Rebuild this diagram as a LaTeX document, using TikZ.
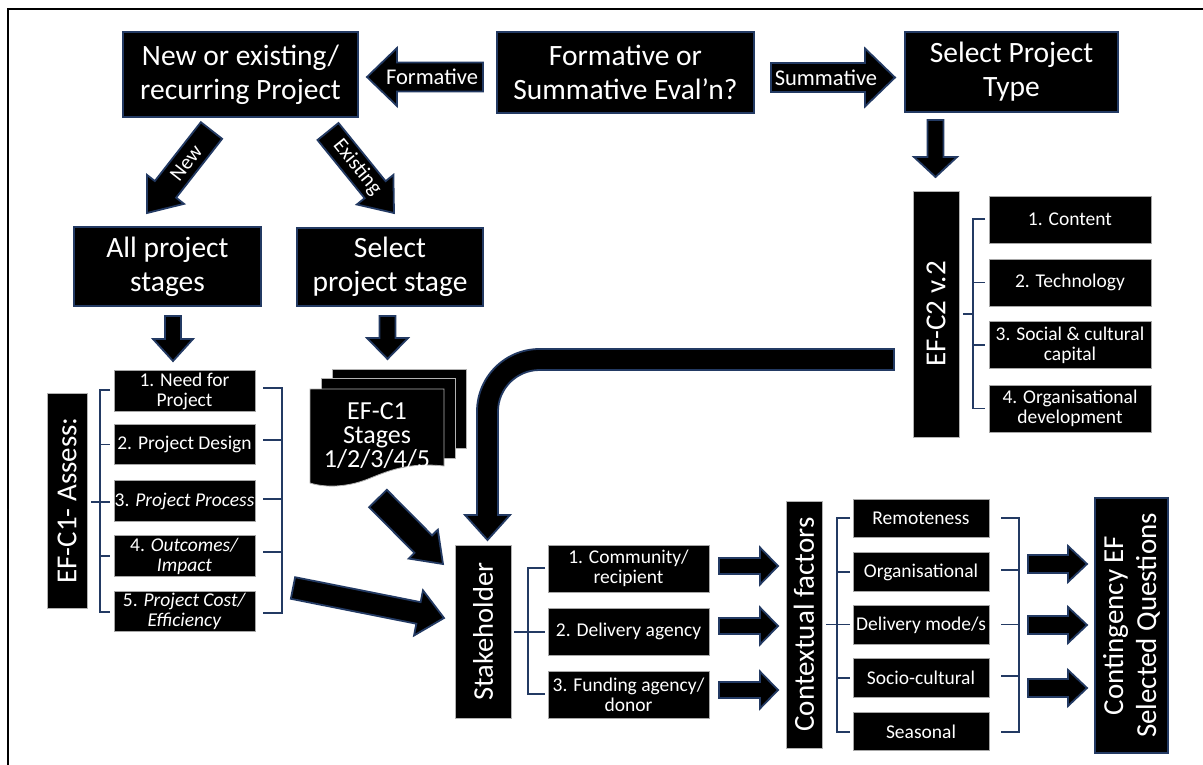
\documentclass[tikz,border=0pt]{standalone}
\usepackage{fontspec}
\setmainfont{Carlito}
\usetikzlibrary{calc}
\definecolor{navy}{RGB}{35,58,99}
\tikzset{
  bigbox/.style={fill=black, draw=navy, line width=1.5pt, text=white, align=center,
    font=\fontsize{29.5}{34}\selectfont, inner sep=0pt},
  itembox/.style={fill=black, draw=gray!70, line width=0.6pt, text=white, align=center,
    font=\fontsize{19.5}{20}\selectfont, inner sep=0pt},
  vbox/.style={fill=black, draw=gray!60, line width=0.6pt, text=white, align=center,
    font=\fontsize{29}{33}\selectfont, inner sep=0pt, rotate=90},
  brk/.style={draw=navy, line width=1.6pt},
  barr/.style={fill=black, draw=navy, line width=1.8pt, line join=miter},
  alabel/.style={text=white, font=\fontsize{22.5}{23}\selectfont, inner sep=0pt},
  dlabel/.style={text=white, font=\fontsize{21}{22}\selectfont, inner sep=0pt},
  sheet/.style={fill=black, draw=gray!60, line width=0.8pt},
}
% block arrow: [opts]{from}{to}{body half width}{head half width}{head length}
\newcommand\blockarrow[6][]{%
  \coordinate (baH) at ($(#3)!#6!(#2)$);
  \draw[barr,#1] ($(#2)!#4!90:(#3)$) -- ($(baH)!#4!90:(#3)$) -- ($(baH)!#5!90:(#3)$)
    -- (#3) -- ($(baH)!#5!-90:(#3)$) -- ($(baH)!#4!-90:(#3)$) -- ($(#2)!#4!-90:(#3)$) -- cycle;
}
\begin{document}
\begin{tikzpicture}[x=1pt,y=-1pt]
\useasboundingbox (0,0) rectangle (1203,764);
\fill[white] (0,0) rectangle (1203,764);
% frame
\draw[line width=2.2pt] (8,9) rectangle (1220,780);

% ---- top row
\node[bigbox, minimum width=235pt, minimum height=85pt] (ne) at (240.5,74.5) {New or existing/\\recurring Project};
\node[bigbox, minimum width=257pt, minimum height=81pt] (fs) at (625.5,72.5) {Formative or\\Summative Eval’n?};
\node[bigbox, minimum width=213pt, minimum height=80pt] (spt) at (1011.5,72) {Select Project\\Type};

% formative / summative arrows
\coordinate (fa) at (483,77); \coordinate (fb) at (367,77);
\blockarrow{fa}{fb}{14.5pt}{29pt}{30pt}
\node[alabel] (flab) at (432,77) {Formative};
\coordinate (sa) at (771,77.5); \coordinate (sb) at (895,77.5);
\blockarrow{sa}{sb}{14.5pt}{29pt}{30pt}
\node[alabel] (slab) at (826,77.5) {Summative};

% new / existing arrows
\coordinate (na) at (211.5,130.5); \coordinate (nb) at (147,213);
\blockarrow{na}{nb}{13.5pt}{23.5pt}{30pt}
\path (na) -- (baH) node[dlabel, pos=0.55, sloped] (nlab) {New};
\coordinate (ea) at (328,131.5); \coordinate (eb) at (394,213);
\blockarrow{ea}{eb}{13.5pt}{23.5pt}{30pt}
\path (ea) -- (baH) node[dlabel, pos=0.62, sloped] (elab) {Existing};

% ---- second row
\node[bigbox, minimum width=187pt, minimum height=79pt] (aps) at (167.5,266.5) {All project\\stages};
\node[bigbox, minimum width=186pt, minimum height=78pt] (sps) at (390,267) {Select\\project stage};

\coordinate (d1a) at (173,316); \coordinate (d1b) at (173,361);
\blockarrow{d1a}{d1b}{8pt}{20pt}{22pt}
\coordinate (d2a) at (387.5,316); \coordinate (d2b) at (387.5,359);
\blockarrow{d2a}{d2b}{8pt}{20.5pt}{21pt}
\coordinate (d3a) at (935.5,120); \coordinate (d3b) at (935.5,177);
\blockarrow{d3a}{d3b}{8pt}{21.5pt}{20pt}

% ---- EF-C1 assess block
\node[vbox, minimum width=215pt, minimum height=40pt] (efc1) at (67,500.5) {EF-C1- Assess:};
\node[itembox, minimum width=141pt, minimum height=40.5pt] (a1) at (184.5,391) {1. Need for\\Project};
\node[itembox, minimum width=141pt, minimum height=40.5pt] (a2) at (184.5,444.5) {2. Project Design};
\node[itembox, minimum width=141pt, minimum height=40.5pt] (a3) at (184.5,501) {3. \textit{Project Process}};
\node[itembox, minimum width=141pt, minimum height=40.5pt] (a4) at (184.5,556) {4. \textit{Outcomes/}\\\textit{Impact}};
\node[itembox, minimum width=141pt, minimum height=40.5pt] (a5) at (184.5,611.5) {5. \textit{Project Cost/}\\\textit{Efficiency}};
\draw[brk] (110,390) -- (100,390) -- (100,612) -- (110,612);
\draw[brk] (91,502) -- (110,502);
\draw[brk] (100,444.5) -- (110,444.5);
\draw[brk] (100,556) -- (110,556);
\draw[brk] (263,388) -- (282,388) -- (282,613) -- (263,613);
\draw[brk] (263,440) -- (282,440);
\draw[brk] (263,499) -- (282,499);
\draw[brk] (263,552) -- (282,552);

% ---- EF-C1 stages stack
\path[sheet] (332,369) rectangle (466,448);
\path[sheet] (321,378) rectangle (455,458);
\path[sheet] (310,389) -- (444,389) -- (444,466) .. controls (408,462) and (388,471) .. (368,479)
   .. controls (348,487) and (326,488) .. (310,483) -- cycle;
\node[text=white, align=center, font=\fontsize{26}{24}\selectfont, inner sep=0pt] (stages) at (377,436) {EF-C1\\Stages\\1/2/3/4/5};

% ---- EF-C2 block
\node[vbox, minimum width=246pt, minimum height=46pt] (efc2) at (936,314) {EF-C2 v.2};
\node[itembox, minimum width=162pt, minimum height=47pt] (c1) at (1070,219.5) {1. Content};
\node[itembox, minimum width=162pt, minimum height=47pt] (c2) at (1070,282.5) {2. Technology};
\node[itembox, minimum width=162pt, minimum height=47pt] (c3) at (1070,345) {3. Social \& cultural\\capital};
\node[itembox, minimum width=162pt, minimum height=47pt] (c4) at (1070,408.5) {4. Organisational\\development};
\draw[brk] (985,219) -- (973,219) -- (973,408.5) -- (985,408.5);
\draw[brk] (973,282.5) -- (985,282.5);
\draw[brk] (973,345) -- (985,345);
\draw[brk] (963,314) -- (973,314);

% ---- big curved arrow from EF-C2 to stakeholder
\draw[barr] (894,349) -- (539.5,349) arc[start angle=270, end angle=180, radius=62.5]
   -- (477,515) -- (465,515) -- (487.5,540) -- (510,515) -- (498,515)
   -- (498,411.5) arc[start angle=180, end angle=270, radius=41.5] -- (894,370) -- cycle;

% ---- stakeholder
\node[vbox, minimum width=173pt, minimum height=56pt, font=\fontsize{28.5}{33}\selectfont] (stake) at (483,631.5) {Stakeholder};
\coordinate (t1a) at (378,498.5); \coordinate (t1b) at (443,564);
\blockarrow{t1a}{t1b}{12.4pt}{20.5pt}{28pt}
\coordinate (t2a) at (293,588); \coordinate (t2b) at (444,618);
\blockarrow{t2a}{t2b}{11pt}{23pt}{26pt}

\node[itembox, minimum width=161pt, minimum height=47pt] (s1) at (628.5,568.5) {1. Community/\\recipient};
\node[itembox, minimum width=161pt, minimum height=47pt] (s2) at (628.5,631.5) {2. Delivery agency};
\node[itembox, minimum width=161pt, minimum height=47pt] (s3) at (628.5,694.5) {3. Funding agency/\\donor};
\draw[brk] (545,568) -- (528,568) -- (528,694) -- (545,694);
\draw[brk] (514,632) -- (545,632);

\foreach \yy/\nn in {566/1,626/2,690/3}{
  \coordinate (ka\nn) at (719,\yy); \coordinate (kb\nn) at (778,\yy);
  \blockarrow{ka\nn}{kb\nn}{8pt}{18.5pt}{18pt}
}

% ---- contextual factors
\node[vbox, minimum width=247pt, minimum height=36pt] (ctx) at (804,624.5) {Contextual factors};
\node[itembox, minimum width=136pt, minimum height=38.5pt] (f1) at (921,518.5) {Remoteness};
\node[itembox, minimum width=136pt, minimum height=38.5pt] (f2) at (921,572) {Organisational};
\node[itembox, minimum width=136pt, minimum height=38.5pt] (f3) at (921,625) {Delivery mode/s};
\node[itembox, minimum width=136pt, minimum height=38.5pt] (f4) at (921,678) {Socio-cultural};
\node[itembox, minimum width=136pt, minimum height=38.5pt] (f5) at (921,731.5) {Seasonal};
\draw[brk] (850,518) -- (837,518) -- (837,732) -- (850,732);
\draw[brk] (837,572) -- (850,572);
\draw[brk] (826,624.5) -- (850,624.5);
\draw[brk] (837,678) -- (850,678);
\draw[brk] (1001,518) -- (1019,518) -- (1019,732) -- (1001,732);
\draw[brk] (1001,570) -- (1019,570);
\draw[brk] (1001,624.5) -- (1019,624.5);
\draw[brk] (1001,676) -- (1019,676);

\foreach \yy/\nn in {564/1,625/2,688/3}{
  \coordinate (qa\nn) at (1028,\yy); \coordinate (qb\nn) at (1087,\yy);
  \blockarrow{qa\nn}{qb\nn}{9pt}{18pt}{19pt}
}

% ---- contingency
\node[vbox, draw=navy, line width=2pt, minimum width=255pt, minimum height=73pt] (cont) at (1131.5,625.5) {Contingency EF\\Selected Questions};
\end{tikzpicture}
\end{document}
